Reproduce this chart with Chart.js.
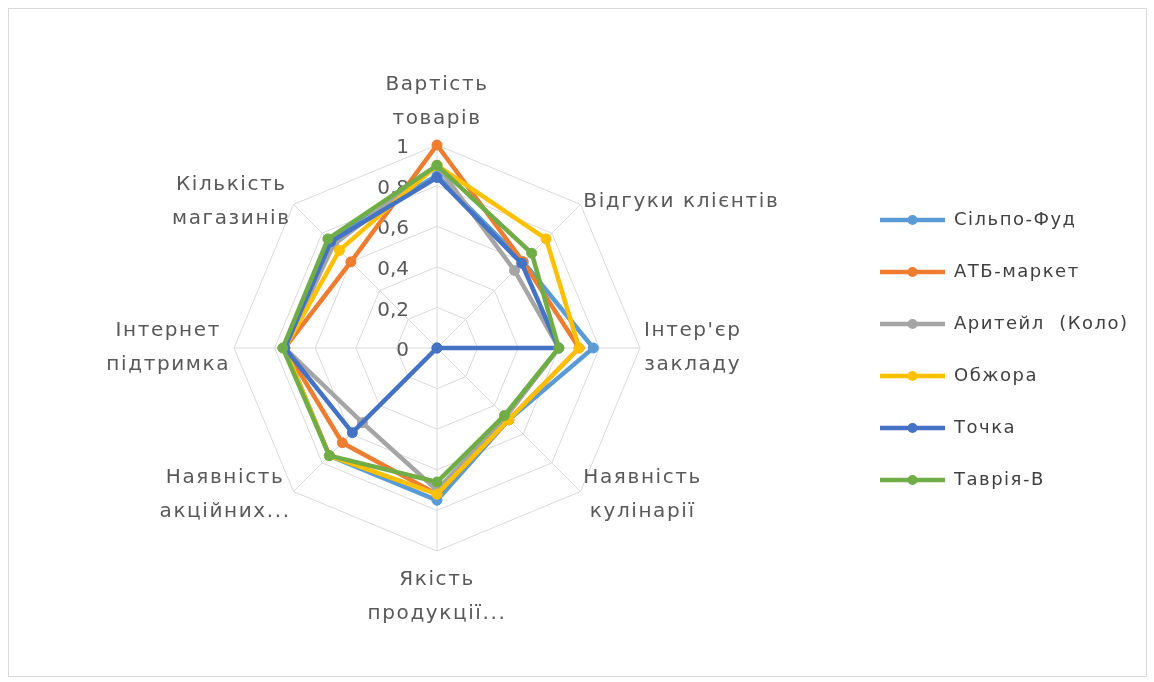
<!DOCTYPE html>
<html><head><meta charset="utf-8">
<script src="https://cdn.jsdelivr.net/npm/chart.js@4.4.1/dist/chart.umd.min.js"></script>
<style>
html,body{margin:0;padding:0;background:#fff;}
#wrap{position:relative;width:1154px;height:682px;overflow:hidden;}
#frame{position:absolute;left:8px;top:8px;width:1137px;height:667px;border:1px solid #d9d9d9;pointer-events:none;}
canvas{position:absolute;left:0;top:0;}
</style></head><body>
<div id="wrap"><canvas id="c" width="1154" height="682"></canvas><div id="frame"></div></div>
<script>
// ---------- DATA ----------
const categories = [
  ["Вартість", "товарів"],
  ["Відгуки клієнтів"],
  ["Інтер'єр", "закладу"],
  ["Наявність", "кулінарії"],
  ["Якість", "продукції..."],
  ["Наявність", "акційних..."],
  ["Інтернет", "підтримка"],
  ["Кількість", "магазинів"]
];
const seriesNames = ["Сільпо-Фуд", "АТБ-маркет", "Аритейл  (Коло)", "Обжора", "Точка", "Таврія-В"];
const silpoFud  = [0.85, 0.60, 0.77, 0.50, 0.75, 0.75, 0.75, 0.75];
const atbMarket = [1.00, 0.60, 0.70, 0.50, 0.72, 0.66, 0.75, 0.60];
const arytail   = [0.90, 0.54, 0.60, 0.48, 0.70, 0.52, 0.75, 0.72];
const obzhora   = [0.90, 0.76, 0.70, 0.50, 0.72, 0.75, 0.75, 0.68];
const tochka    = [0.84, 0.59, 0.60, 0.00, 0.00, 0.59, 0.75, 0.74];
const tavriaV   = [0.90, 0.66, 0.60, 0.47, 0.66, 0.75, 0.76, 0.76];
const tickValues = [0, 0.2, 0.4, 0.6, 0.8, 1];
const tickLabels = ["0", "0,2", "0,4", "0,6", "0,8", "1"];

// ---------- STYLE ----------
const seriesValues = [silpoFud, atbMarket, arytail, obzhora, tochka, tavriaV];
const colors = ["#5B9BD5", "#ED7D31", "#A5A5A5", "#FFC000", "#4472C4", "#70AD47"];
const FONT = "'DejaVu Sans', 'Noto Sans', sans-serif";
const CENTER_X = 437, CENTER_Y = 348, RADIUS = 203;
const LEG_FONT = 18, LEG_PAD = 34, LEG_BOX = 65, LEG_X = 880, LEG_SPACING = "1.5px";
const LABEL_SPACING = "1.6px";

function legendImage(color) {
  const cv = document.createElement('canvas');
  cv.width = LEG_BOX; cv.height = 14;
  const g = cv.getContext('2d');
  g.strokeStyle = color; g.lineWidth = 4.5;
  g.beginPath(); g.moveTo(0, 7); g.lineTo(LEG_BOX, 7); g.stroke();
  g.fillStyle = color;
  g.beginPath(); g.arc(LEG_BOX / 2, 7, 5, 0, Math.PI * 2); g.fill();
  return cv;
}
const legendImgs = colors.map(legendImage);

// compute right padding so that legend items start at LEG_X
const mctx = document.createElement('canvas').getContext('2d');
mctx.font = LEG_FONT + "px " + FONT;
mctx.letterSpacing = LEG_SPACING;
const maxTextW = Math.max(...seriesNames.map(n => mctx.measureText(n).width));
const padRight = Math.max(0, 1154 - LEG_X - 10 - (LEG_BOX + LEG_FONT / 2 + maxTextW));

const placeScale = {
  id: 'placeScale',
  beforeUpdate(chart) { chart.ctx.letterSpacing = LEG_SPACING; },
  beforeLayout(chart) { chart.ctx.letterSpacing = LEG_SPACING; },
  beforeDraw(chart) { chart.ctx.letterSpacing = LEG_SPACING; },
  afterLayout(chart) {
    const s = chart.scales.r;
    s.xCenter = CENTER_X; s.yCenter = CENTER_Y; s.drawingArea = RADIUS;
  },
  beforeDatasetsDraw(chart) {
    const s = chart.scales.r, ctx = chart.ctx;
    ctx.save();
    ctx.letterSpacing = "0px";
    ctx.font = "20px " + FONT;
    ctx.fillStyle = "#595959";
    ctx.textAlign = "right"; ctx.textBaseline = "middle";
    tickValues.forEach((v, i) => {
      const y = s.yCenter - s.getDistanceFromCenterForValue(v) + 3;
      ctx.fillText(tickLabels[i], s.xCenter - 28, y);
    });
    ctx.restore();
  },
  afterDatasetsDraw(chart) {
    const s = chart.scales.r, ctx = chart.ctx;
    const n = categories.length, lh = 34;
    ctx.save();
    ctx.letterSpacing = LABEL_SPACING;
    ctx.font = "20px " + FONT;
    ctx.fillStyle = "#595959";
    ctx.textBaseline = "middle";
    ctx.textAlign = "center";
    categories.forEach((lines, i) => {
      const widths = lines.map(t => ctx.measureText(t).width);
      const bw = Math.max(...widths);
      const bh = lines.length * lh;
      let cx, top;
      if (i === 0) {
        const p = s.getPointPosition(i, s.drawingArea + 9);
        cx = p.x; top = p.y - bh;
      } else if (i === n / 2) {
        const p = s.getPointPosition(i, s.drawingArea + 12);
        cx = p.x; top = p.y;
      } else {
        const p = s.getPointPosition(i, s.drawingArea + 4);
        cx = (i < n / 2) ? p.x + bw / 2 : p.x - bw / 2;
        top = p.y - bh / 2;
      }
      lines.forEach((t, k) => ctx.fillText(t, cx, top + lh * k + lh / 2));
    });
    ctx.restore();
    ctx.letterSpacing = LEG_SPACING;
  }
};

new Chart(document.getElementById('c'), {
  type: 'radar',
  data: {
    labels: categories,
    datasets: seriesNames.map((name, i) => ({
      label: name,
      data: seriesValues[i],
      borderColor: colors[i],
      backgroundColor: colors[i],
      pointBackgroundColor: colors[i],
      pointBorderColor: colors[i],
      borderWidth: 4.5,
      pointRadius: 5,
      pointBorderWidth: 1,
      fill: false,
      order: seriesNames.length - i
    }))
  },
  options: {
    responsive: false,
    animation: false,
    layout: { padding: { top: 18, right: padRight, left: 0, bottom: 0 } },
    scales: {
      r: {
        min: 0, max: 1,
        ticks: { display: false, stepSize: 0.2 },
        pointLabels: { display: false },
        grid: { color: "#d9d9d9", lineWidth: 1 },
        angleLines: { display: true, color: "#d9d9d9", lineWidth: 1 }
      }
    },
    plugins: {
      tooltip: { enabled: false },
      legend: {
        position: 'right',
        align: 'center',
        labels: {
          usePointStyle: true,
          pointStyleWidth: LEG_BOX,
          padding: LEG_PAD,
          color: "#404040",
          font: { family: FONT, size: LEG_FONT },
          sort: (a, b) => a.datasetIndex - b.datasetIndex,
          generateLabels(chart) {
            const items = Chart.defaults.plugins.legend.labels.generateLabels(chart);
            items.forEach(it => { it.pointStyle = legendImgs[it.datasetIndex]; });
            return items;
          }
        }
      }
    }
  },
  plugins: [placeScale]
});
</script>
</body></html>
